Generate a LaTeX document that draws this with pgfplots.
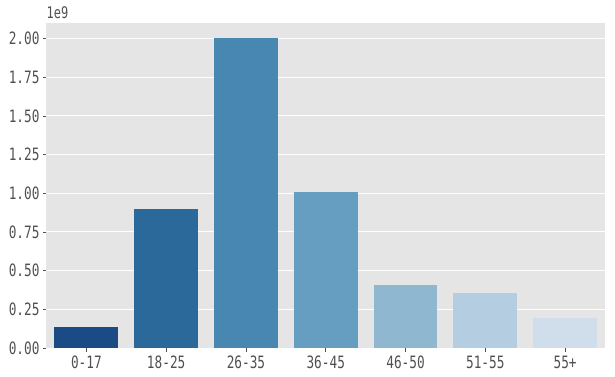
\documentclass[border=0pt]{standalone}
\usepackage{pgfplots}
\pgfplotsset{compat=1.18}
\usepackage{fontspec}
\setmainfont{DejaVu Sans}
\newfontfamily\tickfont[FakeStretch=0.75]{DejaVu Sans Mono}
\definecolor{bg}{RGB}{229,229,229}
\definecolor{txt}{RGB}{80,80,80}
\definecolor{ca}{RGB}{26,75,132}
\definecolor{cb}{RGB}{44,105,155}
\definecolor{cc}{RGB}{72,135,178}
\definecolor{cd}{RGB}{101,158,193}
\definecolor{ce}{RGB}{143,184,208}
\definecolor{cf}{RGB}{180,205,224}
\definecolor{cg}{RGB}{208,222,235}
\begin{document}
\begin{tikzpicture}
\path[use as bounding box] (0pt,0pt) rectangle (615pt,376pt);
\coordinate (O) at (46.5pt,28pt);
\begin{axis}[
  at={(O)}, anchor=south west,
  scale only axis, width=558.5pt, height=325pt,
  xmin=-0.5, xmax=6.5, ymin=0, ymax=2.1,
  clip=false,
  axis background/.style={fill=bg},
  axis line style={draw=none},
  ymajorgrids, grid style={white, line width=1pt},
  xtick={0,1,2,3,4,5,6},
  xticklabels={0-17,18-25,26-35,36-45,46-50,51-55,55+},
  ytick={0,0.25,0.5,0.75,1,1.25,1.5,1.75,2},
  yticklabel style={/pgf/number format/.cd, fixed, fixed zerofill, precision=2},
  /pgf/number format/assume math mode=true,
  ticklabel style={font=\tickfont\fontsize{17}{17}\selectfont, text=txt},
  xtick pos=lower, ytick pos=left,
  tick align=outside, major tick length=3.5pt,
  tick style={color=txt, line width=0.7pt},
  xticklabel style={yshift=-1pt},
  ybar, bar width=0.8, bar shift=0pt,
]
\addplot[fill=ca, draw=none] coordinates {(0,0.134)};
\addplot[fill=cb, draw=none] coordinates {(1,0.900)};
\addplot[fill=cc, draw=none] coordinates {(2,2.000)};
\addplot[fill=cd, draw=none] coordinates {(3,1.010)};
\addplot[fill=ce, draw=none] coordinates {(4,0.410)};
\addplot[fill=cf, draw=none] coordinates {(5,0.358)};
\addplot[fill=cg, draw=none] coordinates {(6,0.197)};
\node[anchor=base west, inner sep=0pt, text=txt, yshift=5pt, font=\tickfont\fontsize{16}{16}\selectfont] at (rel axis cs:0,1) {1e9};
\end{axis}
\end{tikzpicture}
\end{document}
